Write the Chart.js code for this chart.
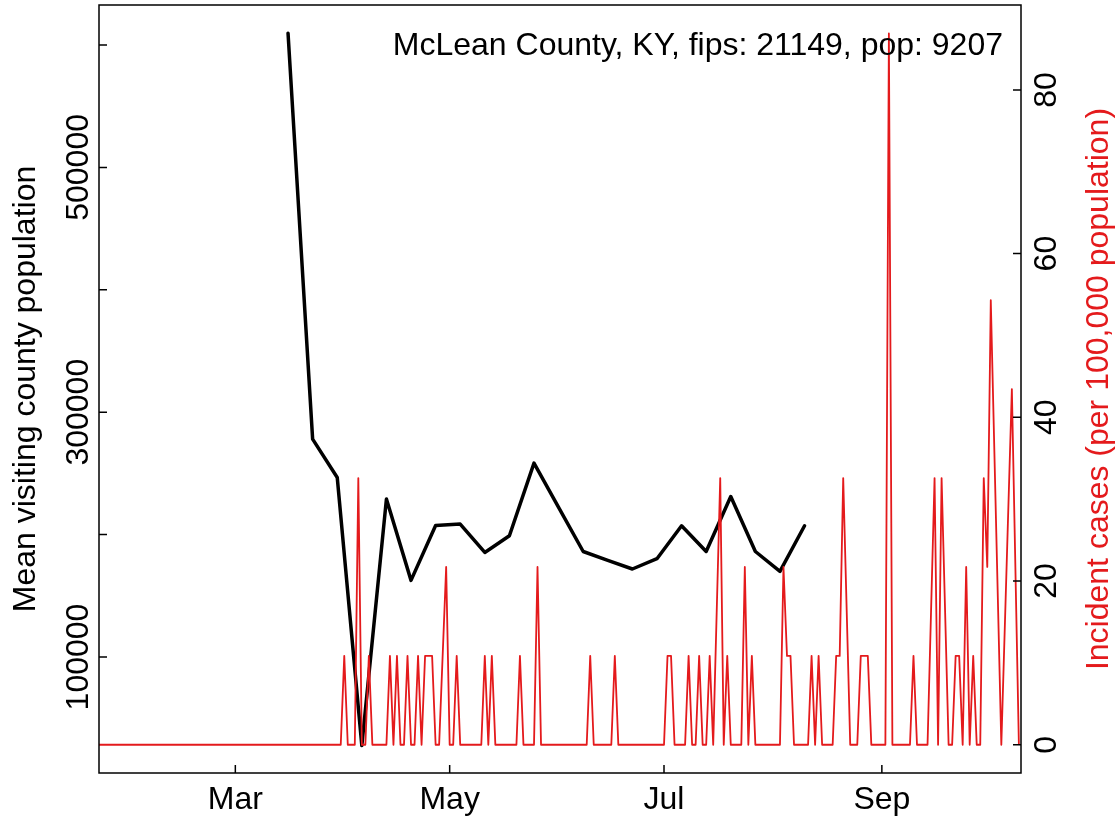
<!DOCTYPE html>
<html>
<head>
<meta charset="utf-8">
<script src="https://cdn.jsdelivr.net/npm/chart.js@4/dist/chart.umd.min.js"></script>
<style>
  html, body { margin: 0; padding: 0; background: #fff; }
  #wrap { width: 1119px; height: 822px; position: relative; }
</style>
</head>
<body>
<div id="wrap"><canvas id="chart"></canvas></div>
<script>
// x values are days counted from 2020-01-22
const visitDays = [54, 61, 68, 75, 82, 89, 96, 103, 110, 117, 124, 131, 138, 145, 152, 159, 166, 173, 180, 187, 194, 201];
const visitPop = [609600, 278000, 246700, 27600, 229000, 162600, 207500, 208600, 185400, 199100, 258400,
                  222300, 186200, 179000, 171900, 180300, 207200, 186200, 231100, 186200, 169900, 207200];

// incident cases per 100,000 (one case = 10.86 for pop 9207)
const caseDays = [0, 69, 70, 71, 73, 74, 75, 76, 77, 78, 82, 83, 84, 85, 86, 87, 88, 89, 90, 91, 92, 93, 94, 95, 96, 97, 99, 100, 101, 102, 103,
                  109, 110, 111, 112, 113, 119, 120, 121, 124, 125, 126, 139, 140, 141, 146, 147, 148,
                  161, 162, 163, 164, 167, 168, 169, 170, 171, 172, 173, 174, 175, 177, 178, 179, 180,
                  183, 184, 185, 186, 187, 194, 195, 196, 197, 198, 202, 203, 204, 205, 206,
                  209, 210, 211, 212, 214, 216, 217, 218, 219, 220, 224, 225, 226, 231, 232, 233,
                  236, 238, 239, 240, 242, 243, 244, 245, 246, 247, 248, 249, 250, 251, 252, 253, 254, 257, 260, 262];
const caseRates = [0, 0, 10.86, 0, 0, 32.58, 0, 0, 10.86, 0, 0, 10.86, 0, 10.86, 0, 0, 10.86, 0, 0, 10.86, 0, 10.86, 10.86, 10.86, 0, 0, 21.72, 0, 0, 10.86, 0,
                   0, 10.86, 0, 10.86, 0, 0, 10.86, 0, 0, 21.72, 0, 0, 10.86, 0, 0, 10.86, 0,
                   0, 10.86, 10.86, 0, 0, 10.86, 0, 0, 10.86, 0, 0, 10.86, 0, 32.58, 0, 10.86, 0,
                   0, 21.72, 0, 10.86, 0, 0, 21.72, 10.86, 10.86, 0, 0, 10.86, 0, 10.86, 0,
                   0, 10.86, 10.86, 32.58, 0, 0, 10.86, 10.86, 10.86, 0, 0, 86.89, 0, 0, 10.86, 0,
                   0, 32.58, 0, 32.58, 0, 0, 10.86, 10.86, 0, 21.72, 0, 10.86, 0, 0, 32.58, 21.72, 54.31, 0, 43.45, 0];

const monthTicks = [39, 100, 161, 223];
const monthLabels = ['Mar', 'May', 'Jul', 'Sep'];
const popTicks = [100000, 200000, 300000, 400000, 500000, 600000];
const popLabels = ['100000', '', '300000', '', '500000', ''];
const rateTicks = [0, 20, 40, 60, 80];
const titleText = 'McLean County, KY, fips: 21149, pop: 9207';

const RED = '#e41a1c';
const FAMILY = '"Liberation Sans", Arial, Helvetica, sans-serif';
const FONT = '32px ' + FAMILY;

// box, inward ticks, rotated y labels and titles (base R look)
const rAxes = {
    id: 'rAxes',
    afterDraw(chart) {
        const ctx = chart.ctx;
        const a = chart.chartArea;
        const xs = chart.scales.x, ys = chart.scales.y, ys2 = chart.scales.y2;
        ctx.save();
        ctx.strokeStyle = '#000';
        ctx.lineWidth = 1.5;
        ctx.strokeRect(a.left, a.top, a.right - a.left, a.bottom - a.top);
        ctx.beginPath();
        monthTicks.forEach(v => {
            const px = xs.getPixelForValue(v);
            ctx.moveTo(px, a.bottom);
            ctx.lineTo(px, a.bottom - 8);
        });
        popTicks.forEach(v => {
            const py = ys.getPixelForValue(v);
            ctx.moveTo(a.left, py);
            ctx.lineTo(a.left + 8, py);
        });
        rateTicks.forEach(v => {
            const py = ys2.getPixelForValue(v);
            ctx.moveTo(a.right, py);
            ctx.lineTo(a.right - 8, py);
        });
        ctx.stroke();

        ctx.font = FONT;
        ctx.textAlign = 'center';
        ctx.textBaseline = 'alphabetic';
        const vtext = (txt, px, py, color) => {
            ctx.save();
            ctx.translate(px, py);
            ctx.rotate(-Math.PI / 2);
            ctx.fillStyle = color;
            ctx.fillText(txt, 0, 0);
            ctx.restore();
        };
        popTicks.forEach((v, i) => {
            if (popLabels[i]) vtext(popLabels[i], a.left - 10.7, ys.getPixelForValue(v), '#000');
        });
        rateTicks.forEach(v => vtext(String(v), a.right + 35, ys2.getPixelForValue(v), '#000'));
        const midY = (a.top + a.bottom) / 2;
        vtext('Mean visiting county population', 35, midY, '#000');
        vtext('Incident cases (per 100,000 population)', a.right + 87, midY, RED);

        ctx.fillStyle = '#000';
        ctx.textAlign = 'right';
        ctx.fillText(titleText, a.right - 18, a.top + 50);
        ctx.restore();
    }
};

new Chart(document.getElementById('chart'), {
    type: 'line',
    data: {
        datasets: [{
            label: 'Incident cases',
            data: caseDays.map((d, i) => ({ x: d, y: caseRates[i] })),
            yAxisID: 'y2',
            borderColor: RED,
            borderWidth: 1.8,
            pointRadius: 0,
            tension: 0,
            borderJoinStyle: 'round',
            order: 0
        }, {
            label: 'Mean visiting county population',
            data: visitDays.map((d, i) => ({ x: d, y: visitPop[i] })),
            yAxisID: 'y',
            borderColor: '#000',
            borderWidth: 3.5,
            pointRadius: 0,
            tension: 0,
            borderJoinStyle: 'round',
            borderCapStyle: 'round',
            order: 1
        }]
    },
    options: {
        responsive: true,
        maintainAspectRatio: false,
        animation: false,
        devicePixelRatio: 1,
        events: [],
        layout: { padding: { top: 5, left: 0, right: 0, bottom: 0 } },
        plugins: {
            legend: { display: false },
            tooltip: { enabled: false },
            title: { display: false }
        },
        scales: {
            x: {
                type: 'linear',
                min: 0.2,
                max: 262.6,
                grid: { display: false, drawTicks: false },
                border: { display: false },
                afterBuildTicks: s => { s.ticks = monthTicks.map(v => ({ value: v })); },
                ticks: {
                    autoSkip: false,
                    maxRotation: 0,
                    minRotation: 0,
                    padding: 8,
                    color: '#000',
                    font: { family: FAMILY, size: 32 },
                    callback: v => monthLabels[monthTicks.indexOf(v)]
                },
                afterFit: s => { s.height = 49; }
            },
            y: {
                position: 'left',
                min: 5229,
                max: 632680,
                grid: { display: false, drawTicks: false },
                border: { display: false },
                ticks: { display: false },
                afterFit: s => { s.width = 99; }
            },
            y2: {
                position: 'right',
                min: -3.45,
                max: 90.37,
                grid: { display: false, drawTicks: false },
                border: { display: false },
                ticks: { display: false },
                afterFit: s => { s.width = 98; }
            }
        }
    },
    plugins: [rAxes]
});
</script>
</body>
</html>
